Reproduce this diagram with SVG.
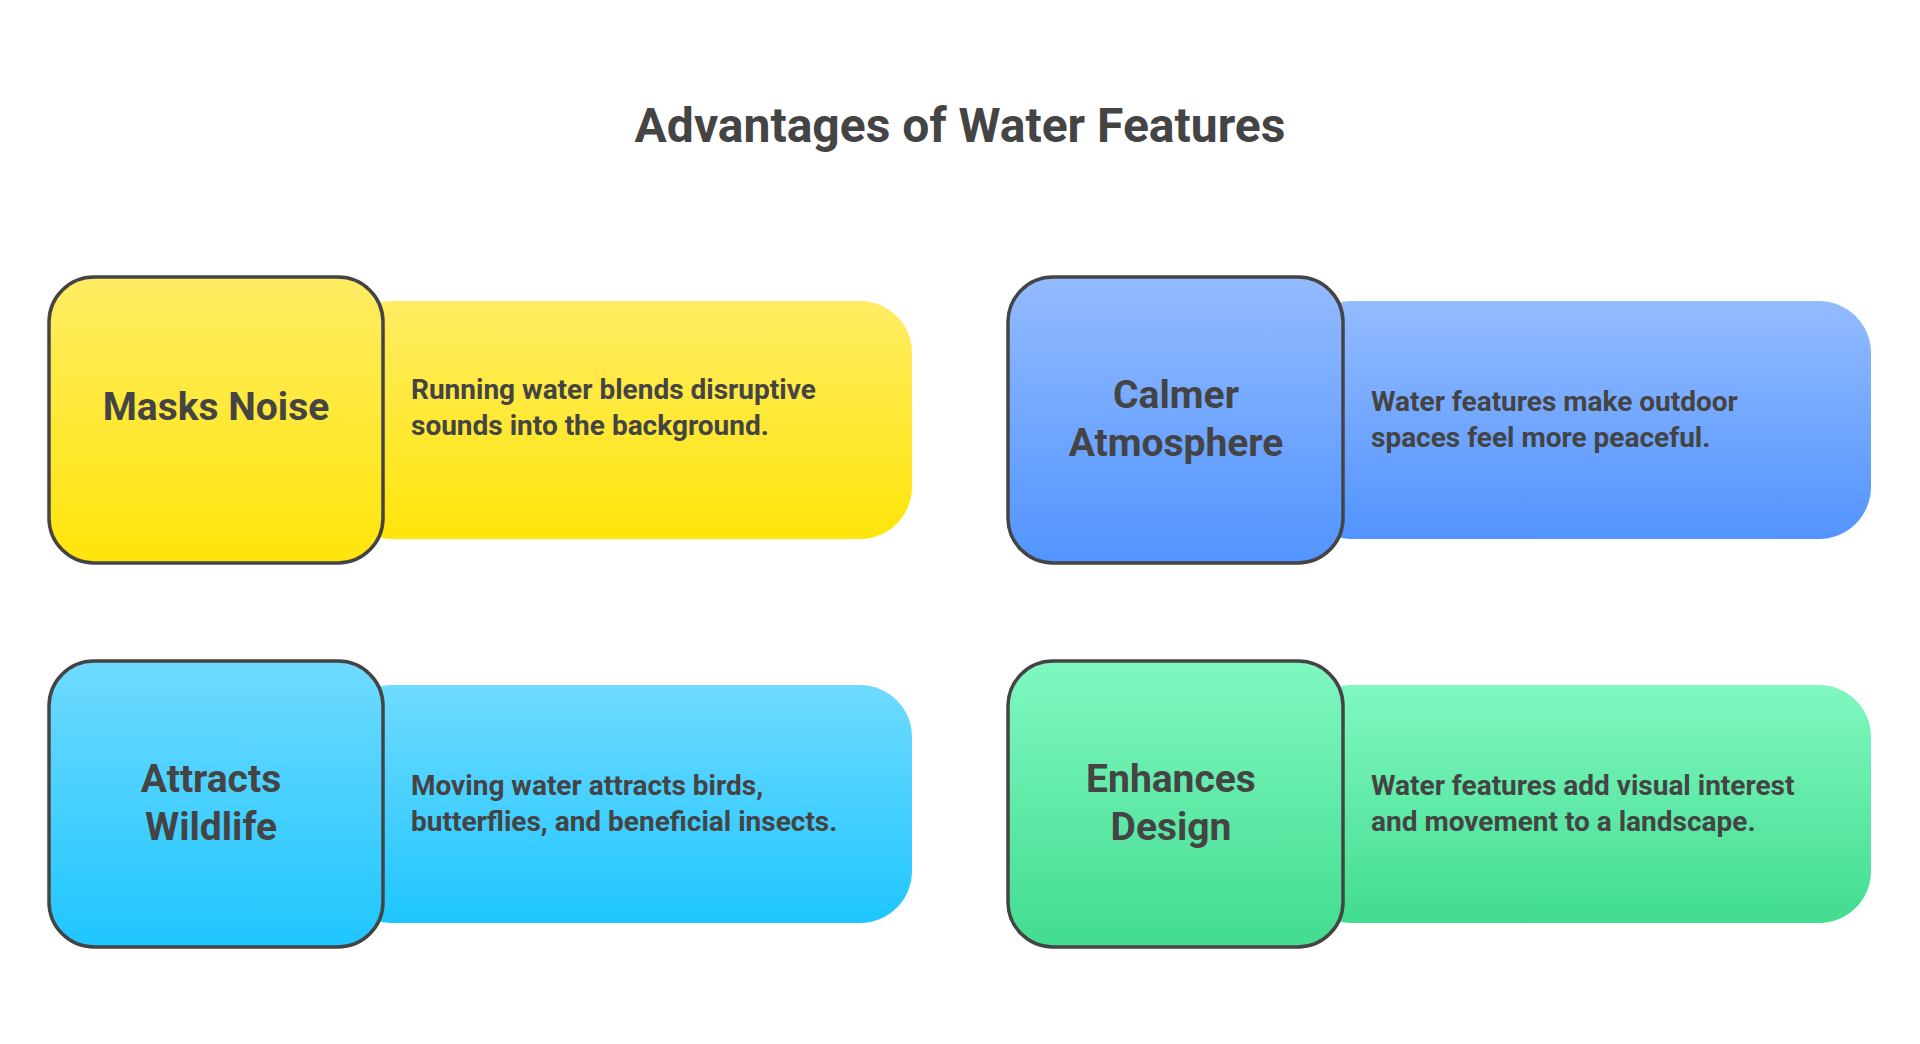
<svg xmlns="http://www.w3.org/2000/svg" width="1920" height="1044" viewBox="0 0 1920 1044">
<defs>
<linearGradient id="gy" x1="0" y1="0" x2="0" y2="1"><stop offset="0" stop-color="#FFEC63"/><stop offset="1" stop-color="#FFE50A"/></linearGradient>
<linearGradient id="gb" x1="0" y1="0" x2="0" y2="1"><stop offset="0" stop-color="#93BBFF"/><stop offset="1" stop-color="#5294FF"/></linearGradient>
<linearGradient id="gc" x1="0" y1="0" x2="0" y2="1"><stop offset="0" stop-color="#6FDAFF"/><stop offset="1" stop-color="#1FC6FF"/></linearGradient>
<linearGradient id="gg" x1="0" y1="0" x2="0" y2="1"><stop offset="0" stop-color="#80F8C0"/><stop offset="1" stop-color="#42DC90"/></linearGradient>
</defs>
<style>
.t{font-family:Roboto,"Liberation Sans",sans-serif;font-weight:bold;fill:#444}
.h{font-size:39px;text-anchor:middle}
.d{font-size:28px}
.n{stroke:#444;stroke-width:3.5}
</style>
<rect width="1920" height="1044" fill="#fff"/>
<text class="t" x="960" y="142" font-size="48" text-anchor="middle">Advantages of Water Features</text>
<g id="masks-noise">
<rect x="340" y="301" width="572" height="238" rx="52" fill="url(#gy)"/>
<rect class="n" x="49" y="277" width="334" height="286" rx="45" fill="url(#gy)"/>
<text class="t h" x="216" y="420">Masks Noise</text>
<text class="t d" x="411" y="399">Running water blends disruptive</text>
<text class="t d" x="411" y="435">sounds into the background.</text>
</g>
<g id="calmer-atmosphere">
<rect x="1300" y="301" width="571" height="238" rx="52" fill="url(#gb)"/>
<rect class="n" x="1008" y="277" width="335" height="286" rx="45" fill="url(#gb)"/>
<text class="t h" x="1176" y="408">Calmer</text>
<text class="t h" x="1176" y="456">Atmosphere</text>
<text class="t d" x="1371" y="411">Water features make outdoor</text>
<text class="t d" x="1371" y="447">spaces feel more peaceful.</text>
</g>
<g id="attracts-wildlife">
<rect x="340" y="685" width="572" height="238" rx="52" fill="url(#gc)"/>
<rect class="n" x="49" y="661" width="334" height="286" rx="45" fill="url(#gc)"/>
<text class="t h" x="211" y="792">Attracts</text>
<text class="t h" x="211" y="840">Wildlife</text>
<text class="t d" x="411" y="795">Moving water attracts birds,</text>
<text class="t d" x="411" y="831">butterflies, and beneficial insects.</text>
</g>
<g id="enhances-design">
<rect x="1300" y="685" width="571" height="238" rx="52" fill="url(#gg)"/>
<rect class="n" x="1008" y="661" width="335" height="286" rx="45" fill="url(#gg)"/>
<text class="t h" x="1171" y="792">Enhances</text>
<text class="t h" x="1171" y="840">Design</text>
<text class="t d" x="1371" y="795">Water features add visual interest</text>
<text class="t d" x="1371" y="831">and movement to a landscape.</text>
</g>
<g id="connectors"/>
</svg>
